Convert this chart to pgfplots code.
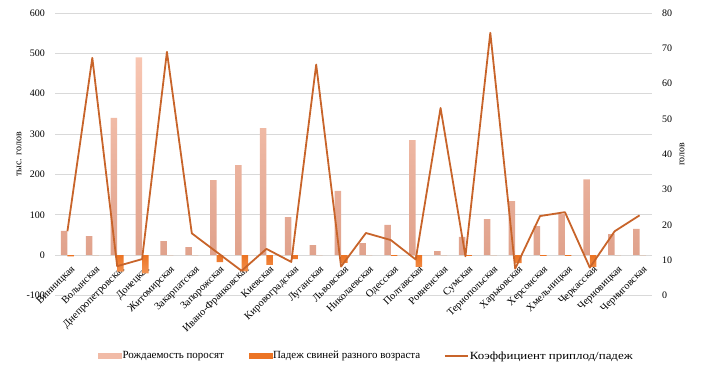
\documentclass[border=0pt]{standalone}
\usepackage{fontspec}
\setmainfont{Liberation Serif}
\usepackage{graphicx}
\usepackage{pgfplots}
\usepackage{pgfplotstable}
\pgfplotsset{compat=1.18}
\definecolor{pinkTop}{HTML}{F8C6B2}
\definecolor{pinkBot}{HTML}{E0A28C}
\definecolor{orTop}{HTML}{EC7424}
\definecolor{orBot}{HTML}{F39352}
\definecolor{lineC}{HTML}{C8642A}
\definecolor{gridgray}{HTML}{D9D9D9}
\pgfplotstableread{
idx birth death coef
0 60 -3 18.2
1 47 0 67.3
2 340 -41 8.3
3 490 -45 10.3
4 35 0 69.0
5 20 0 17.6
6 186 -17 12.3
7 223 -40 7.0
8 315 -24 13.2
9 94 -10 9.5
10 25 0 65.4
11 159 -19 8.2
12 30 0 17.7
13 75 -2 15.7
14 285 -29 10.2
15 10 0 53.1
16 45 -2 11.1
17 89 0 74.4
18 134 -20 7.6
19 72 -2 22.5
20 102 -2 23.6
21 188 -29 7.9
22 52 0 18.2
23 65 0 22.7
}\datatable
\begin{document}
\begin{tikzpicture}
\path[use as bounding box] (0,0) rectangle (704bp,367bp);
\begin{axis}[
  at={(55bp,71.5bp)}, anchor=south west,
  width=597bp, height=282.5bp, scale only axis,
  xmin=-0.5, xmax=23.5, ymin=-100, ymax=600,
  ytick={-100,0,100,200,300,400,500,600},
  yticklabels={-100,0,100,200,300,400,500,600},
  ymajorgrids, grid style={draw=gridgray, line width=0.75bp},
  axis line style={draw=none}, major tick length=0pt,
  xtick={0,...,23},
  xticklabels={Винницкая,Волынская,Днепропетровская,Донецкая,Житомирская,Закарпатская,Запорожская,Ивано-Франковская,Киевская,Кировоградская,Луганская,Львовская,Николаевская,Одесская,Полтавская,Ровненская,Сумская,Тернопольская,Харьковская,Херсонская,Хмельницкая,Черкасская,Черновицкая,Черниговская},
  xticklabel style={xshift=3bp, yshift=31bp, rotate=45, anchor=north east, inner sep=0pt, font=\fontsize{10.5}{12}\selectfont},
  yticklabel style={anchor=east, inner sep=0pt, xshift=-10bp, font=\fontsize{10}{12}\selectfont},
  every axis y label/.style={at={(axis description cs:-0.0603,0.5)}, rotate=90, anchor=center, font=\fontsize{10}{12}\selectfont},
  ylabel={тыс. голов},
  ybar=0pt, bar width=6.5bp,
]
\addplot[draw=none, top color=pinkTop, bottom color=pinkBot] table[x=idx, y=birth] {\datatable};
\addplot[draw=none, top color=orTop, bottom color=orBot] table[x=idx, y=death] {\datatable};
\end{axis}
\begin{axis}[
  at={(55bp,71.5bp)}, anchor=south west,
  width=597bp, height=282.5bp, scale only axis,
  xmin=-0.5, xmax=23.5, ymin=0, ymax=80,
  hide x axis, axis y line*=right, y axis line style={draw=none},
  major tick length=0pt,
  ytick={0,10,20,30,40,50,60,70,80},
  yticklabels={0,10,20,30,40,50,60,70,80},
  yticklabel style={anchor=west, inner sep=0pt, xshift=10bp, font=\fontsize{10}{12}\selectfont},
  every axis y label/.style={at={(axis description cs:1.0503,0.5)}, rotate=90, anchor=center, font=\fontsize{10}{12}\selectfont},
  ylabel={голов},
  legend columns=3,
  legend style={at={(axis description cs:0.521,-0.214)}, anchor=center, draw=none, fill=none,
    font=\fontsize{11}{13}\selectfont, nodes={inner xsep=1bp, inner ysep=1bp},
    /tikz/every even column/.append style={column sep=0bp}},
]
\addlegendimage{legend image code/.code={\fill[pinkTop!70!pinkBot] (0bp,-2.3bp) rectangle (23bp,2.3bp);}}
\addlegendentry{\makebox[125bp][l]{Рождаемость поросят}}
\addlegendimage{legend image code/.code={\fill[orTop] (0bp,-2.3bp) rectangle (23bp,2.3bp);}}
\addlegendentry{\makebox[170bp][l]{Падеж свиней разного возраста}}
\addplot[sharp plot, no marks, color=lineC, line width=1.8bp, line join=round,
  legend image code/.code={\draw[lineC, line width=1.8bp] (0bp,0bp) -- (23bp,0bp);}] table[x=idx, y=coef] {\datatable};
\addlegendentry{\makebox[163bp][l]{\scalebox{1.18}[1]{Коэффициент приплод/падеж}}}
\end{axis}
\end{tikzpicture}
\end{document}
